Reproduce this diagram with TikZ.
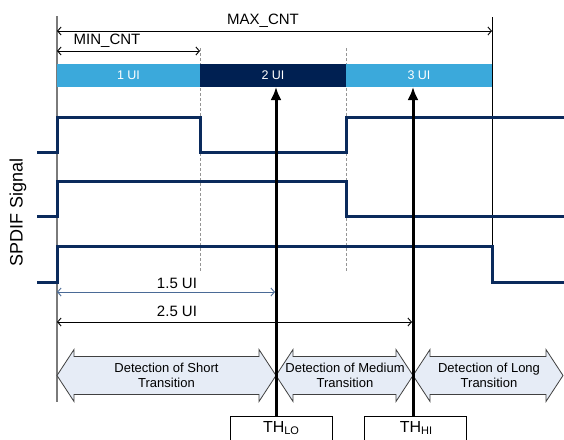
\documentclass[tikz,border=0pt]{standalone}
\usepackage{fontspec}
\setmainfont{Liberation Sans}
\usetikzlibrary{arrows.meta}

\definecolor{uilight}{HTML}{3BA9DB}
\definecolor{uidark}{HTML}{002052}
\definecolor{sig}{HTML}{0A2A5C}
\definecolor{detfill}{HTML}{E6ECF6}
\definecolor{guide}{HTML}{7A7A7A}
\definecolor{dimblue}{HTML}{4A6A96}

\begin{document}
\begin{tikzpicture}[x=1pt,y=-1pt,
  sigline/.style={draw=sig, line width=3pt, line join=miter},
  dimline/.style={line width=0.9pt,
    {Straight Barb[length=3.5pt,width=8pt]}-{Straight Barb[length=3.5pt,width=8pt]}},
  guideline/.style={draw=guide!80, line width=0.7pt, dash pattern=on 3pt off 2pt},
  uiseg/.style={inner sep=0pt, minimum height=23pt, text=white,
    font=\fontsize{12.5}{14}\selectfont},
  dimlabel/.style={inner sep=0pt, font=\fontsize{15}{18}\selectfont},
  detarrow/.style={draw=black!75, line width=0.8pt, fill=detfill, line join=miter},
  detlabel/.style={inner sep=0pt, align=center, font=\fontsize{13}{15}\selectfont},
  thbox/.style={draw=black, line width=0.9pt, minimum width=102pt, minimum height=40pt,
    anchor=north, inner sep=0pt},
  thtext/.style={inner sep=0pt, anchor=north, font=\fontsize{16}{18}\selectfont},
  tharrow/.style={line width=3pt, -{Latex[length=13pt,width=11pt]}}
]
\useasboundingbox (0,0) rectangle (564,439);

% reference lines
\draw[guide, line width=1.2pt] (57,16) -- (57,402);
\draw[black, line width=0.9pt] (492,17) -- (492,247);
\draw[guideline] (200,48) -- (200,272);
\draw[guideline] (346,48) -- (346,272);

% counter ranges
\coordinate (maxL) at (57,31);
\coordinate (maxR) at (492,31);
\draw[dimline] (maxL) -- (maxR);
\node[dimlabel] (maxlbl) at (263,21) {MAX\_CNT};
\coordinate (minL) at (57,51);
\coordinate (minR) at (200,51);
\draw[dimline] (minL) -- (minR);
\node[dimlabel] (minlbl) at (107,41) {MIN\_CNT};

% unit-interval bar
\node[uiseg, fill=uilight, minimum width=143pt] (ui1) at (128.5,75.5) {1 UI};
\node[uiseg, fill=uidark, minimum width=146pt] (ui2) at (273,75.5) {2 UI};
\node[uiseg, fill=uilight, minimum width=146pt] (ui3) at (419,75.5) {3 UI};

% SPDIF waveforms
\draw[sigline] (37,152) -- (57,152) -- (57,117) -- (200,117) -- (200,152)
  -- (346,152) -- (346,117) -- (564,117);
\draw[sigline] (37,216) -- (57,216) -- (57,181) -- (346,181) -- (346,216) -- (564,216);
\draw[sigline] (37,282) -- (57,282) -- (57,246.5) -- (492,246.5) -- (492,282) -- (564,282);
\node[inner sep=0pt, rotate=90, font=\fontsize{18}{20}\selectfont] (spdif) at (18,212) {SPDIF Signal};

% thresholds in UI
\coordinate (lowL) at (57,292);
\coordinate (lowR) at (275,292);
\draw[dimline, dimblue] (lowL) -- (lowR);
\node[dimlabel] (lowlbl) at (177,283) {1.5 UI};
\coordinate (hiL) at (57,322);
\coordinate (hiR) at (412,322);
\draw[dimline] (hiL) -- (hiR);
\node[dimlabel] (hilbl) at (177,311) {2.5 UI};

% detection windows
\draw[detarrow] (57,375.5) -- (74,349.5) -- (74,356.5) -- (259,356.5) -- (259,349.5)
  -- (276,375.5) -- (259,401.5) -- (259,394.5) -- (74,394.5) -- (74,401.5) -- cycle;
\draw[detarrow] (276,375.5) -- (293,349.5) -- (293,356.5) -- (396,356.5) -- (396,349.5)
  -- (413,375.5) -- (396,401.5) -- (396,394.5) -- (293,394.5) -- (293,401.5) -- cycle;
\draw[detarrow] (413,375.5) -- (430,349.5) -- (430,356.5) -- (546,356.5) -- (546,349.5)
  -- (563,375.5) -- (546,401.5) -- (546,394.5) -- (430,394.5) -- (430,401.5) -- cycle;
\node[detlabel] (det1) at (166.5,375) {Detection of Short\\Transition};
\node[detlabel] (det2) at (345,375) {Detection of Medium\\Transition};
\node[detlabel] (det3) at (489,375) {Detection of Long\\Transition};

% threshold markers
\node[thbox] (thlobox) at (281,416) {};
\node[thbox] (thhibox) at (415.5,416) {};
\node[thtext] (thlo) at (281,421) {TH\raisebox{-2pt}{\fontsize{11}{12}\selectfont LO}};
\node[thtext] (thhi) at (416,421) {TH\raisebox{-2pt}{\fontsize{11}{12}\selectfont HI}};
\coordinate (loBase) at (276,416);
\coordinate (loTip) at (276,87);
\coordinate (hiBase) at (413,416);
\coordinate (hiTip) at (413,87);
\draw[tharrow] (loBase) -- (loTip);
\draw[tharrow] (hiBase) -- (hiTip);
\end{tikzpicture}
\end{document}
